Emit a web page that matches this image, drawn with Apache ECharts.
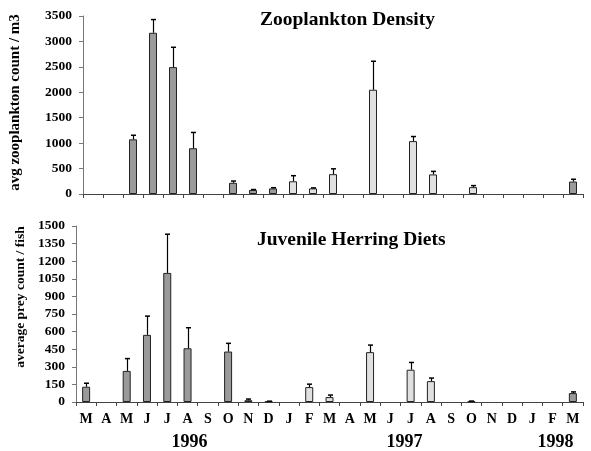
<!DOCTYPE html>
<html><head><meta charset="utf-8">
<script src="https://cdn.jsdelivr.net/npm/echarts@6/dist/echarts.min.js"></script>
<style>html,body{margin:0;padding:0;background:#fff}#c{width:591px;height:451px}</style>
</head><body><div id="c"></div>
<script>
const months = ['M','A','M','J','J','A','S','O','N','D','J','F','M','A','M','J','J','A','S','O','N','D','J','F','M'];
const years = [{label:'1996', at:5.1},{label:'1997', at:15.7},{label:'1998', at:23.15}];
const zooMean = [null,null,1075,3170,2495,900,null,220,80,110,250,110,390,null,2050,null,1040,385,null,135,null,null,null,null,245];
const zooErr  = [null,null,80,260,390,310,null,35,8,14,110,10,105,null,560,null,90,60,null,30,null,null,null,null,45];
const zooShade = ['d','d','d','d','d','d','d','d','d','d','l','l','l','l','l','l','l','l','l','l','l','l','l','l','d'];
const dietMean = [130,null,265,572,1100,458,null,430,15,5,null,127,42,null,425,null,275,178,null,5,null,null,null,null,76];
const dietErr  = [30,null,105,160,330,175,null,70,10,2,null,25,17,null,60,null,62,26,null,3,null,null,null,null,10];
const dietShade = ['d','d','d','d','d','d','d','d','d','d','l','l','l','l','l','l','l','l','l','d','l','l','l','l','d'];
const zooTicks = {min:0,max:3500,interval:500};
const dietTicks = {min:0,max:1500,interval:150};

const FONT = 'Liberation Serif';
const shadeColor = {d:'#9a9a9a', l:'#e0e0e0'};
function barData(vals, shades){
  return vals.map((v,i)=> v==null ? null : {value:v, itemStyle:{color:shadeColor[shades[i]]}});
}
function errData(vals, errs){
  return vals.map((v,i)=> v==null ? [i,null,null] : [i,v,errs[i]]);
}
function errRender(params, api){
  const v = api.value(1);
  if (v == null || isNaN(v)) return null;
  const i = api.value(0), e = api.value(2);
  const p0 = api.coord([i, v]), p1 = api.coord([i, v+e]);
  const x = Math.round(p0[0]) + 0.5;
  return {type:'group', children:[
    {type:'line', shape:{x1:x,y1:p0[1],x2:x,y2:p1[1]}, style:{stroke:'#000',lineWidth:1.2}},
    {type:'line', shape:{x1:x-2.5,y1:p1[1],x2:x+2.5,y2:p1[1]}, style:{stroke:'#000',lineWidth:1.5}}
  ]};
}
const axisCommon = (showLabels)=>({
  type:'category', data:months, boundaryGap:true,
  axisLine:{lineStyle:{color:'#444',width:1}},
  axisTick:{show:true, alignWithLabel:false, length:4, lineStyle:{color:'#444'}},
  axisLabel:{show:showLabels, color:'#000', fontFamily:FONT, fontWeight:'bold', fontSize:14, margin:10, interval:0}
});
const yCommon = (t, name, gap, fs, pad)=>({
  type:'value', min:t.min, max:t.max, interval:t.interval,
  name:name, nameLocation:'middle', nameGap:gap,
  nameTextStyle:{fontFamily:FONT, fontWeight:'bold', fontSize:fs, color:'#000', padding:[0,0,0,pad]},
  axisLine:{show:true, lineStyle:{color:'#777'}},
  axisTick:{show:true, length:4, lineStyle:{color:'#777'}},
  splitLine:{show:false},
  axisLabel:{color:'#000', fontFamily:FONT, fontWeight:700, fontSize:13.5, margin:11, formatter:v=>String(v)}
});
const chart = echarts.init(document.getElementById('c'), null, {renderer:'canvas'});
chart.setOption({
  animation:false,
  backgroundColor:'#fff',
  title:[
    {text:'Zooplankton Density', left:255, top:5, textStyle:{fontFamily:FONT, fontWeight:'bold', fontSize:19.5, color:'#000'}},
    {text:'Juvenile Herring Diets', left:252, top:225, textStyle:{fontFamily:FONT, fontWeight:'bold', fontSize:19.5, color:'#000'}}
  ],
  grid:[
    {left:76, right:8, top:16, height:178},
    {left:76, right:8, top:226, height:176}
  ],
  xAxis:[ Object.assign(axisCommon(false),{gridIndex:0}), Object.assign(axisCommon(true),{gridIndex:1}) ],
  yAxis:[ Object.assign(yCommon(zooTicks,'avg zooplankton count / m3',60,15,5),{gridIndex:0}),
          Object.assign(yCommon(dietTicks,'average prey count / fish',42,13.5,34),{gridIndex:1}) ],
  series:[
    {type:'bar', xAxisIndex:0, yAxisIndex:0, data:barData(zooMean,zooShade), barWidth:8,
     itemStyle:{borderColor:'#222', borderWidth:1}},
    {type:'custom', xAxisIndex:0, yAxisIndex:0, data:errData(zooMean,zooErr), renderItem:errRender, z:3},
    {type:'bar', xAxisIndex:1, yAxisIndex:1, data:barData(dietMean,dietShade), barWidth:8,
     itemStyle:{borderColor:'#222', borderWidth:1}},
    {type:'custom', xAxisIndex:1, yAxisIndex:1, data:errData(dietMean,dietErr), renderItem:errRender, z:3}
  ]
});
const step = chart.convertToPixel({xAxisIndex:1}, 1) - chart.convertToPixel({xAxisIndex:1}, 0);
const g = years.map(y=>{
  const base = chart.convertToPixel({xAxisIndex:1}, Math.floor(y.at));
  const x = base + (y.at - Math.floor(y.at))*step;
  return {type:'text', x:x, y:442, style:{text:y.label, fontFamily:FONT, fontWeight:'bold', fontSize:18, fill:'#000', align:'center', verticalAlign:'middle'}};
});
chart.setOption({graphic:g});
</script></body></html>
